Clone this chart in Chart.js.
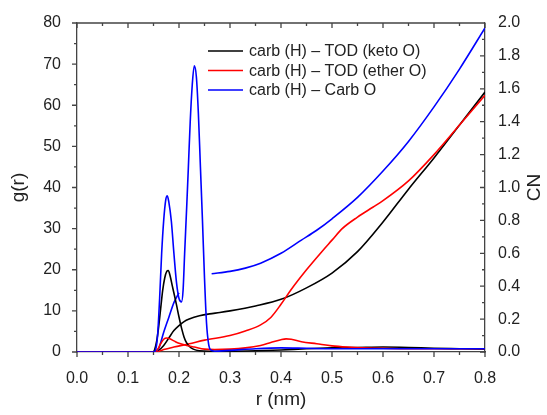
<!DOCTYPE html>
<html>
<head>
<meta charset="utf-8">
<script src="https://cdn.jsdelivr.net/npm/chart.js@4.4.1/dist/chart.umd.min.js"></script>
<style>
  html, body { margin: 0; padding: 0; background: #fff; }
  #wrap { width: 547px; height: 415px; }
</style>
</head>
<body>
<div id="wrap"><canvas id="rdf" width="547" height="415"></canvas></div>
<script>
// legend labels
var seriesNames = ["carb (H) \u2013 TOD (keto O)", "carb (H) \u2013 TOD (ether O)", "carb (H) \u2013 Carb O"];

// g(r), keto O
var rBlackG = [0, 0.148, 0.152, 0.156, 0.16, 0.164, 0.168, 0.172, 0.176, 0.179,
  0.183, 0.187, 0.191, 0.195, 0.2, 0.205, 0.21, 0.215, 0.22, 0.228,
  0.24, 0.26, 0.3, 0.35, 0.4, 0.45, 0.5, 0.55, 0.6, 0.65, 0.7, 0.75, 0.8];
var gBlack = [0, 0, 0.5, 2.5, 6, 10.5, 15, 18, 19.6, 19.8,
  18.3, 16, 13.8, 11.5, 8.5, 5.8, 3.6, 2.2, 1.4, 0.7,
  0.3, 0.2, 0.2, 0.3, 0.5, 0.8, 1.0, 1.1, 1.2, 1.1, 0.9, 0.8, 0.7];

// g(r), ether O
var rRedG = [0, 0.152, 0.158, 0.164, 0.17, 0.176, 0.182, 0.19, 0.2, 0.215,
  0.23, 0.25, 0.27, 0.3, 0.33, 0.36, 0.38, 0.4, 0.41, 0.42,
  0.44, 0.47, 0.5, 0.53, 0.56, 0.6, 0.65, 0.7, 0.75, 0.8];
var gRed = [0, 0, 0.6, 2.0, 3.1, 3.4, 3.2, 2.7, 2.1, 1.6,
  1.2, 0.7, 0.6, 0.7, 1.0, 1.6, 2.3, 3.0, 3.2, 3.1,
  2.5, 2.0, 1.5, 1.2, 1.0, 0.9, 0.8, 0.8, 0.8, 0.8];

// g(r), Carb O
var rBlueG = [0, 0.15, 0.154, 0.158, 0.162, 0.166, 0.17, 0.174, 0.177, 0.18,
  0.185, 0.19, 0.195, 0.2, 0.205, 0.208, 0.211, 0.215, 0.218, 0.222,
  0.226, 0.23, 0.234, 0.238, 0.242, 0.246, 0.25, 0.254, 0.258, 0.262,
  0.27, 0.3, 0.35, 0.4, 0.45, 0.5, 0.55, 0.6, 0.65, 0.7, 0.75, 0.8];
var gBlue = [0, 0, 0.5, 4, 13, 24, 32, 37, 38, 36.5,
  31.8, 24, 17, 13, 12.2, 15, 23.8, 35, 43.8, 56,
  65, 69.6, 67, 58, 45, 32, 18, 7, 2, 0.5,
  0.2, 0.4, 0.8, 1.0, 0.9, 0.8, 0.8, 0.8, 0.8, 0.8, 0.8, 0.8];

// CN curves (right axis)
var rBlackCN = [0, 0.15, 0.16, 0.17, 0.18, 0.19, 0.2, 0.21, 0.22, 0.24,
  0.26, 0.28, 0.3, 0.35, 0.4, 0.45, 0.5, 0.55, 0.6, 0.65, 0.7, 0.75, 0.8];
var cnBlack = [0, 0, 0.01, 0.04, 0.085, 0.13, 0.16, 0.185, 0.2, 0.22,
  0.232, 0.24, 0.25, 0.28, 0.32, 0.39, 0.48, 0.61, 0.79, 0.99, 1.18, 1.38, 1.58];

var rRedCN = [0, 0.155, 0.17, 0.19, 0.22, 0.25, 0.3, 0.33, 0.36, 0.38,
  0.4, 0.42, 0.45, 0.48, 0.5, 0.52, 0.55, 0.58, 0.6, 0.65, 0.7, 0.75, 0.8];
var cnRed = [0, 0, 0.015, 0.03, 0.05, 0.072, 0.1, 0.128, 0.165, 0.21,
  0.29, 0.38, 0.5, 0.61, 0.68, 0.75, 0.82, 0.88, 0.92, 1.04, 1.2, 1.38, 1.56];

// blue CN has a break between the two peaks
var rBlueCN = [0, 0.15, 0.16, 0.17, 0.18, 0.19, 0.2, 0.202, 0.264, 0.3,
  0.33, 0.36, 0.4, 0.44, 0.47, 0.5, 0.55, 0.6, 0.65, 0.7, 0.75, 0.8];
var cnBlue = [0, 0, 0.02, 0.12, 0.21, 0.3, 0.36, null, 0.476, 0.49,
  0.51, 0.54, 0.6, 0.68, 0.74, 0.81, 0.94, 1.1, 1.28, 1.49, 1.72, 1.97];

var colors = ["#000000", "#ff0000", "#0000ff"];
var axisColor = "#444444";
var fontFamily = "'Liberation Sans', Arial, sans-serif";

function pairs(xs, ys) {
  return xs.map(function (x, i) { return { x: x, y: ys[i] }; });
}

function lineSet(label, xs, ys, color, axis, order) {
  return {
    label: label,
    data: pairs(xs, ys),
    yAxisID: axis,
    borderColor: color,
    backgroundColor: color,
    borderWidth: 1.6,
    pointRadius: 0,
    fill: false,
    spanGaps: false,
    cubicInterpolationMode: "monotone",
    order: order
  };
}

// ticks (major + minor), top frame, right title, legend
var decorations = {
  id: "decorations",
  afterDraw: function (chart) {
    var ctx = chart.ctx;
    var a = chart.chartArea;
    var sx = chart.scales.x, sy = chart.scales.y, sr = chart.scales.y1;
    var i, p, len;

    ctx.save();
    ctx.strokeStyle = axisColor;
    ctx.lineWidth = 1.3;
    ctx.beginPath();
    ctx.moveTo(a.left, a.top);
    ctx.lineTo(a.right, a.top);
    for (i = 0; i <= 16; i++) {
      p = sx.getPixelForValue(i * 0.05);
      len = i % 2 === 0 ? 5 : 3;
      ctx.moveTo(p, a.bottom);
      ctx.lineTo(p, a.bottom + len);
      ctx.moveTo(p, a.top);
      ctx.lineTo(p, a.top + len);
    }
    for (i = 0; i <= 16; i++) {
      p = sy.getPixelForValue(i * 5);
      len = i % 2 === 0 ? 5 : 3;
      ctx.moveTo(a.left - len, p);
      ctx.lineTo(a.left, p);
    }
    for (i = 0; i <= 20; i++) {
      p = sr.getPixelForValue(i * 0.1);
      len = i % 2 === 0 ? 5 : 3;
      ctx.moveTo(a.right - len, p);
      ctx.lineTo(a.right, p);
    }
    ctx.stroke();

    // right axis title, reads bottom to top
    ctx.fillStyle = "#222";
    ctx.font = "19px " + fontFamily;
    ctx.textAlign = "center";
    ctx.textBaseline = "middle";
    ctx.translate(535, (a.top + a.bottom) / 2);
    ctx.rotate(-Math.PI / 2);
    ctx.fillText("CN", 0, 0);
    ctx.restore();

    // legend
    ctx.save();
    ctx.font = "16px " + fontFamily;
    ctx.textAlign = "left";
    ctx.textBaseline = "middle";
    ctx.lineWidth = 1.6;
    for (i = 0; i < seriesNames.length; i++) {
      var y = 51 + i * 19.5;
      ctx.strokeStyle = colors[i];
      ctx.beginPath();
      ctx.moveTo(208, y);
      ctx.lineTo(243, y);
      ctx.stroke();
      ctx.fillStyle = "#222";
      ctx.fillText(seriesNames[i], 249, y + 1);
    }
    ctx.restore();
  }
};

var tickFont = { family: fontFamily, size: 16 };
var titleFont = { family: fontFamily, size: 19 };

new Chart(document.getElementById("rdf"), {
  type: "line",
  data: {
    datasets: [
      lineSet(seriesNames[0], rBlackG, gBlack, colors[0], "y", 2),
      lineSet(seriesNames[1], rRedG, gRed, colors[1], "y", 1),
      lineSet(seriesNames[2], rBlueG, gBlue, colors[2], "y", 0),
      lineSet("CN keto", rBlackCN, cnBlack, colors[0], "y1", 5),
      lineSet("CN ether", rRedCN, cnRed, colors[1], "y1", 4),
      lineSet("CN carb", rBlueCN, cnBlue, colors[2], "y1", 3)
    ]
  },
  options: {
    responsive: false,
    animation: false,
    layout: { padding: { top: 23, left: 0, right: 0, bottom: 0 } },
    plugins: {
      legend: { display: false },
      tooltip: { enabled: false }
    },
    scales: {
      x: {
        type: "linear",
        min: 0,
        max: 0.8,
        grid: { display: false },
        border: { display: true, color: axisColor, width: 1.3 },
        ticks: {
          stepSize: 0.1,
          padding: 9,
          color: "#222",
          font: tickFont,
          maxRotation: 0,
          callback: function (v) { return v.toFixed(1); }
        },
        title: { display: true, text: "r (nm)", color: "#222", font: titleFont, padding: { top: 0, bottom: 4 } },
        afterFit: function (s) { s.height = 63; }
      },
      y: {
        position: "left",
        min: 0,
        max: 80,
        grid: { display: false },
        border: { display: true, color: axisColor, width: 1.3 },
        ticks: {
          stepSize: 10,
          padding: 8,
          color: "#222",
          font: tickFont
        },
        title: { display: true, text: "g(r)", color: "#222", font: titleFont, padding: { top: 7, bottom: 0 } },
        afterFit: function (s) { s.width = 77; }
      },
      y1: {
        position: "right",
        min: 0,
        max: 2,
        grid: { display: false },
        border: { display: true, color: axisColor, width: 1.3 },
        ticks: {
          stepSize: 0.2,
          padding: 5,
          color: "#222",
          font: tickFont,
          callback: function (v) { return v.toFixed(1); }
        },
        afterFit: function (s) { s.width = 62; }
      }
    }
  },
  plugins: [decorations]
});
</script>
</body>
</html>
